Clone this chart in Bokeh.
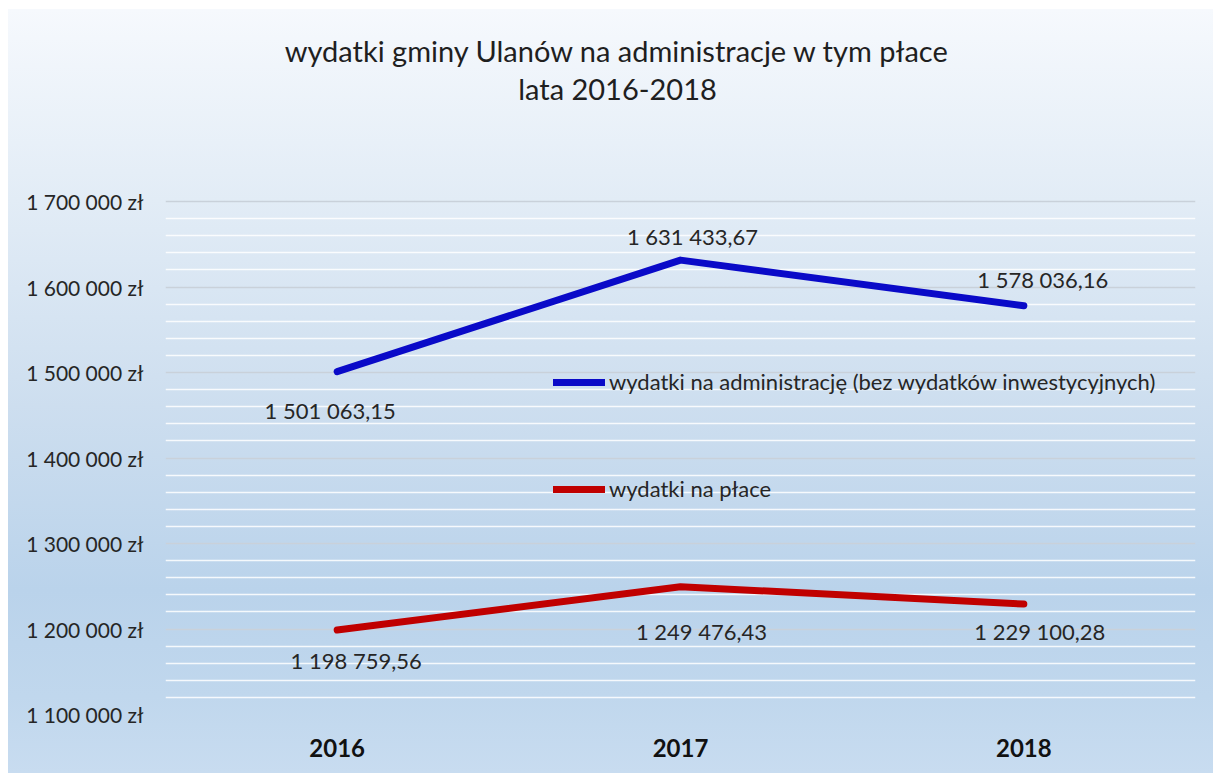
from bokeh.plotting import figure
from bokeh.models import FixedTicker, Legend, LegendItem, Label, Range1d, ColumnDataSource
from bokeh.core.properties import value
from bokeh.embed import file_html
from bokeh.resources import INLINE

# ---- data ----
years = ["2016", "2017", "2018"]
admin = [1501063.15, 1631433.67, 1578036.16]
wages = [1198759.56, 1249476.43, 1229100.28]
y_ticks = [1100000, 1200000, 1300000, 1400000, 1500000, 1600000, 1700000]
series_names = ["wydatki na administrację (bez wydatków inwestycyjnych)", "wydatki na płace"]
title_lines = ["wydatki gminy Ulanów na administracje w tym płace", "lata 2016-2018"]


def pl_num(v):
    return f"{v:,.2f}".replace(",", " ").replace(".", ",")


def pl_tick(v):
    return f"{v:,}".replace(",", " ") + " zł"


FONT = "Lato"

# layout geometry (pixels)
W, H = 1213, 773
FRAME_TOP, FRAME_BOTTOM = 9, 714          # frame extends up to hold the title
PX_PER_STEP = 85.5                        # pixels per 100 000 zł
step = y_ticks[1] - y_ticks[0]
y_end = y_ticks[0] + step * (FRAME_BOTTOM - FRAME_TOP) / PX_PER_STEP

p = figure(x_range=years, y_range=Range1d(y_ticks[0], y_end),
           width=W, height=H, output_backend="svg", toolbar_location=None,
           title=None, min_border_left=165, min_border_right=18,
           min_border_top=FRAME_TOP, min_border_bottom=H - FRAME_BOTTOM)
p.x_range.range_padding = 0
p.background_fill_alpha = 0
p.border_fill_alpha = 0
p.outline_line_color = None
p.styles = {
    "background-image": "linear-gradient(to bottom, #f6f9fd 0%, #e2ecf6 25%, #cddeef 52%, #bad3eb 76%, #c0d7ed 90%, #c8dcf0 100%)",
    "background-size": "1205px 764px",
    "background-position": "8px 9px",
    "background-repeat": "no-repeat",
}

# two-line title as labels (screen px from the frame's bottom-left)
title_x = 452
title_ys = [FRAME_BOTTOM - 50, FRAME_BOTTOM - 88]
for txt, ty in zip(title_lines, title_ys):
    p.add_layout(Label(x=title_x, y=ty, x_units="screen", y_units="screen", text=txt,
                       text_align="center", text_baseline="middle", text_font=FONT,
                       text_font_size="29px", text_color="#1f1f1f"))

# grid
minor = [v for v in range(y_ticks[0], y_ticks[-1] + 1, 20000) if v not in y_ticks]
p.yaxis.ticker = FixedTicker(ticks=y_ticks, minor_ticks=minor)
p.ygrid.grid_line_color = "#c9d1da"
p.ygrid.grid_line_width = 1.5
p.ygrid.minor_grid_line_color = "#ffffff"
p.ygrid.minor_grid_line_width = 1.5
p.ygrid.minor_grid_line_alpha = 0.85
p.xgrid.grid_line_color = None

# axes
p.yaxis.major_label_overrides = {t: pl_tick(t) for t in y_ticks}
for ax in (p.xaxis, p.yaxis):
    ax.axis_line_color = None
    ax.major_tick_line_color = None
    ax.minor_tick_line_color = None
p.yaxis.major_label_text_font = FONT
p.yaxis.major_label_text_font_size = "21px"
p.yaxis.major_label_text_color = "#262626"
p.yaxis.major_label_standoff = 16
p.xaxis.major_label_text_font = FONT
p.xaxis.major_label_text_font_size = "24px"
p.xaxis.major_label_text_font_style = "bold"
p.xaxis.major_label_text_color = "#111111"
p.xaxis.major_label_standoff = 18

# lines
r_admin = p.line(years, admin, line_color="#0a0ac8", line_width=7, line_cap="round", line_join="round")
r_wages = p.line(years, wages, line_color="#c00000", line_width=7, line_cap="round", line_join="round")

# data labels (offsets in screen px)
admin_dx = [-7, 12, 19]
admin_dy = [39, -24, -26]
wages_dx = [19, 21, 16]
wages_dy = [30, 45, 27]
for vals, dx, dy in ((admin, admin_dx, admin_dy), (wages, wages_dx, wages_dy)):
    src = ColumnDataSource(dict(x=years, y=vals, t=[pl_num(v) for v in vals], dx=dx, dy=dy))
    p.text(x="x", y="y", text="t", x_offset="dx", y_offset="dy", source=src,
           text_align="center", text_baseline="middle", text_font=value(FONT),
           text_font_size="22px", text_color="#262626")

legend = Legend(items=[LegendItem(label=series_names[0], renderers=[r_admin]),
                       LegendItem(label=series_names[1], renderers=[r_wages])],
                location=(388, 212), orientation="vertical", spacing=80,
                glyph_width=52, glyph_height=22, label_height=22, label_standoff=4,
                padding=0, margin=0, border_line_alpha=0, background_fill_alpha=0,
                label_text_font=FONT, label_text_font_size="22px", label_text_color="#262626")
p.add_layout(legend)

open("out.html", "w").write(file_html(p, INLINE))
